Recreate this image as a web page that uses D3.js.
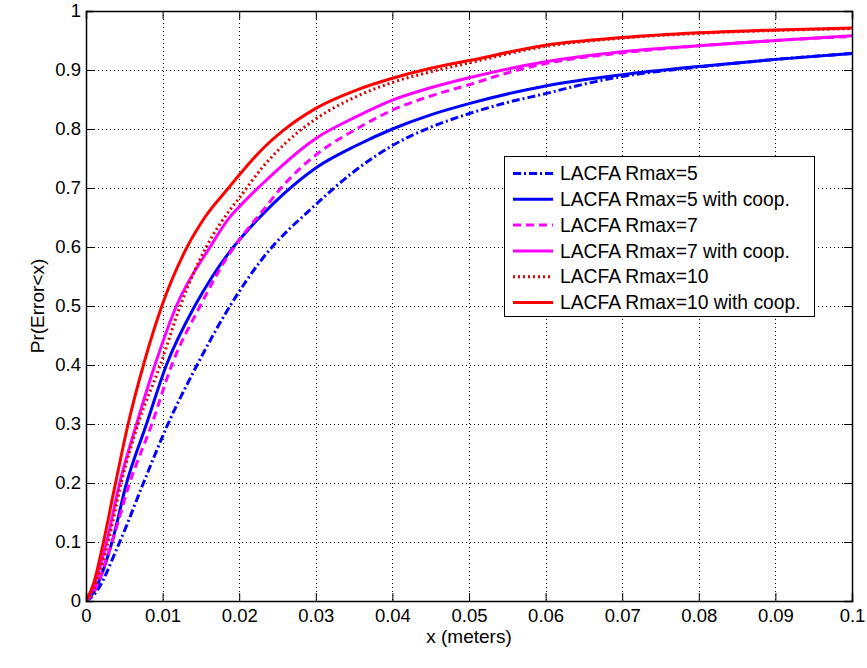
<!DOCTYPE html>
<html>
<head>
<meta charset="utf-8">
<script src="https://cdn.jsdelivr.net/npm/d3@7"></script>
<style>
  html, body { margin: 0; padding: 0; background: #fff; }
  svg { display: block; font-family: Arial, "Liberation Sans", sans-serif; }
</style>
</head>
<body>
<svg id="chart" width="867" height="668"></svg>
<script>
// ---- data ----
const xTicks = [0, 0.01, 0.02, 0.03, 0.04, 0.05, 0.06, 0.07, 0.08, 0.09, 0.1];
const xTickLabels = ["0", "0.01", "0.02", "0.03", "0.04", "0.05", "0.06", "0.07", "0.08", "0.09", "0.1"];
const yTicks = [0, 0.1, 0.2, 0.3, 0.4, 0.5, 0.6, 0.7, 0.8, 0.9, 1];
const yTickLabels = ["0", "0.1", "0.2", "0.3", "0.4", "0.5", "0.6", "0.7", "0.8", "0.9", "1"];

const seriesNames = [
  "LACFA Rmax=5",
  "LACFA Rmax=5 with coop.",
  "LACFA Rmax=7",
  "LACFA Rmax=7 with coop.",
  "LACFA Rmax=10",
  "LACFA Rmax=10 with coop."
];

const rmax5 = [[0,0],[0.001,0.01],[0.0044,0.1],[0.0075,0.2],[0.0107,0.3],[0.0145,0.4],[0.0188,0.5],[0.0229,0.578],[0.03,0.672],[0.035,0.728],[0.04,0.772],[0.045,0.803],[0.05,0.826],[0.055,0.845],[0.06,0.86],[0.065,0.876],[0.07,0.889],[0.08,0.905],[0.09,0.918],[0.1,0.928]];
const rmax5coop = [[0,0],[0.001,0.015],[0.0034,0.1],[0.0053,0.2],[0.0079,0.3],[0.0105,0.4],[0.0142,0.5],[0.0165,0.55],[0.019,0.596],[0.0215,0.634],[0.0231,0.656],[0.0258,0.69],[0.03,0.734],[0.0353,0.772],[0.04,0.8],[0.045,0.824],[0.05,0.843],[0.06,0.873],[0.07,0.892],[0.08,0.906],[0.09,0.918],[0.1,0.928]];
const rmax7 = [[0,0],[0.001,0.015],[0.0034,0.1],[0.0057,0.2],[0.0086,0.3],[0.0112,0.4],[0.0149,0.5],[0.0188,0.59],[0.02,0.612],[0.0231,0.662],[0.0258,0.705],[0.03,0.756],[0.0353,0.8],[0.04,0.832],[0.045,0.856],[0.05,0.875],[0.055,0.895],[0.06,0.911],[0.07,0.929],[0.08,0.941],[0.09,0.95],[0.1,0.957]];
const rmax7coop = [[0,0],[0.001,0.025],[0.0027,0.1],[0.0044,0.2],[0.0066,0.3],[0.009,0.4],[0.0118,0.5],[0.0162,0.6],[0.0188,0.651],[0.02,0.668],[0.0231,0.708],[0.03,0.784],[0.0353,0.821],[0.04,0.849],[0.045,0.87],[0.05,0.887],[0.06,0.914],[0.07,0.931],[0.08,0.941],[0.09,0.95],[0.1,0.958]];
const rmax10 = [[0,0],[0.001,0.02],[0.0029,0.1],[0.0046,0.2],[0.0068,0.3],[0.0097,0.4],[0.0123,0.5],[0.0157,0.6],[0.0188,0.663],[0.02,0.683],[0.0231,0.736],[0.0258,0.773],[0.03,0.817],[0.0353,0.855],[0.04,0.879],[0.045,0.897],[0.05,0.912],[0.06,0.94],[0.07,0.954],[0.08,0.962],[0.09,0.967],[0.1,0.97]];
const rmax10coop = [[0,0],[0.001,0.03],[0.0022,0.095],[0.0037,0.19],[0.0055,0.3],[0.0075,0.4],[0.0099,0.5],[0.0132,0.6],[0.0155,0.65],[0.0186,0.7],[0.02,0.722],[0.0231,0.767],[0.0258,0.798],[0.03,0.835],[0.0353,0.866],[0.04,0.886],[0.045,0.903],[0.05,0.916],[0.06,0.942],[0.07,0.955],[0.08,0.963],[0.09,0.968],[0.1,0.971]];

const seriesData = [rmax5, rmax5coop, rmax7, rmax7coop, rmax10, rmax10coop];
const seriesColors = ["#0000ff", "#0000ff", "#ff00ff", "#ff00ff", "#d80000", "#ff0000"];
const seriesDash = ["8,3,2,3", null, "8,5", null, "2,3", null];
const seriesWidth = [3, 3, 3, 3, 3, 3];

// ---- layout ----
const svg = d3.select("#chart");
const L = 86, R = 852, T = 11, B = 601;
const x = d3.scaleLinear().domain([0, 0.1]).range([L, R]);
const y = d3.scaleLinear().domain([0, 1]).range([B, T]);

// grid
const grid = svg.append("g").attr("shape-rendering", "crispEdges");
grid.selectAll(".gx").data(xTicks.slice(1, -1)).enter().append("line")
  .attr("x1", d => Math.round(x(d)) + 0.5).attr("x2", d => Math.round(x(d)) + 0.5).attr("y1", T).attr("y2", B)
  .attr("stroke", "#000").attr("stroke-width", 1).attr("stroke-dasharray", "1,3");
grid.selectAll(".gy").data(yTicks.slice(1, -1)).enter().append("line")
  .attr("y1", d => Math.round(y(d)) + 0.5).attr("y2", d => Math.round(y(d)) + 0.5).attr("x1", L).attr("x2", R)
  .attr("stroke", "#000").attr("stroke-width", 1).attr("stroke-dasharray", "1,3");

// clip
svg.append("clipPath").attr("id", "clip").append("rect")
  .attr("x", L).attr("y", T - 2).attr("width", R - L).attr("height", B - T + 2);

const line = d3.line().x(d => x(d[0])).y(d => y(d[1])).curve(d3.curveMonotoneX);
const lines = svg.append("g").attr("clip-path", "url(#clip)");
seriesData.forEach((s, i) => {
  lines.append("path").datum(s)
    .attr("d", line)
    .attr("fill", "none")
    .attr("stroke", seriesColors[i])
    .attr("stroke-width", seriesWidth[i])
    .attr("stroke-dasharray", seriesDash[i])
    .attr("stroke-linejoin", "round");
});

// axes (MATLAB style, ticks inside, box)
const tickSize = 8;
const xAxisB = d3.axisBottom(x).tickValues(xTicks).tickSize(-tickSize).tickPadding(8)
  .tickFormat((d, i) => xTickLabels[i]);
const xAxisT = d3.axisTop(x).tickValues(xTicks).tickSize(-tickSize).tickFormat("");
const yAxisL = d3.axisLeft(y).tickValues(yTicks).tickSize(-tickSize).tickPadding(5)
  .tickFormat((d, i) => yTickLabels[i]);
const yAxisR = d3.axisRight(y).tickValues(yTicks).tickSize(-tickSize).tickFormat("");

function style(g) {
  g.select(".domain").attr("stroke", "#000").attr("stroke-width", 1.5);
  g.selectAll(".tick line").attr("stroke", "#000").attr("stroke-width", 1);
  g.selectAll(".tick text").attr("fill", "#000").attr("font-size", 18.5)
    .attr("font-family", "Arial, 'Liberation Sans', sans-serif");
}
svg.append("g").attr("transform", `translate(0,${B})`).call(xAxisB).call(style);
svg.append("g").attr("transform", `translate(0,${T})`).call(xAxisT).call(style);
svg.append("g").attr("transform", `translate(${L},0)`).call(yAxisL).call(style);
svg.append("g").attr("transform", `translate(${R},0)`).call(yAxisR).call(style);

// axis labels
svg.append("text").attr("x", (L + R) / 2).attr("y", 643).attr("text-anchor", "middle")
  .attr("font-size", 19).attr("fill", "#000").text("x (meters)");
svg.append("text").attr("transform", `translate(44,${(T + B) / 2}) rotate(-90)`)
  .attr("text-anchor", "middle").attr("font-size", 19).attr("fill", "#000").text("Pr(Error<x)");

// legend
const lg = svg.append("g");
lg.append("rect").attr("x", 504.5).attr("y", 156.5).attr("width", 310).attr("height", 160)
  .attr("fill", "#fff").attr("stroke", "#000").attr("stroke-width", 1);
const rowY = d3.scaleLinear().domain([0, 5]).range([173.5, 302.5]);
seriesNames.forEach((name, i) => {
  const cy = rowY(i);
  lg.append("line").attr("x1", 513).attr("x2", 553).attr("y1", cy).attr("y2", cy)
    .attr("stroke", seriesColors[i]).attr("stroke-width", seriesWidth[i])
    .attr("stroke-dasharray", seriesDash[i]);
  lg.append("text").attr("x", 560).attr("y", cy).attr("dy", "0.35em")
    .attr("font-size", 19.3).attr("fill", "#000").text(name);
});
</script>
</body>
</html>
